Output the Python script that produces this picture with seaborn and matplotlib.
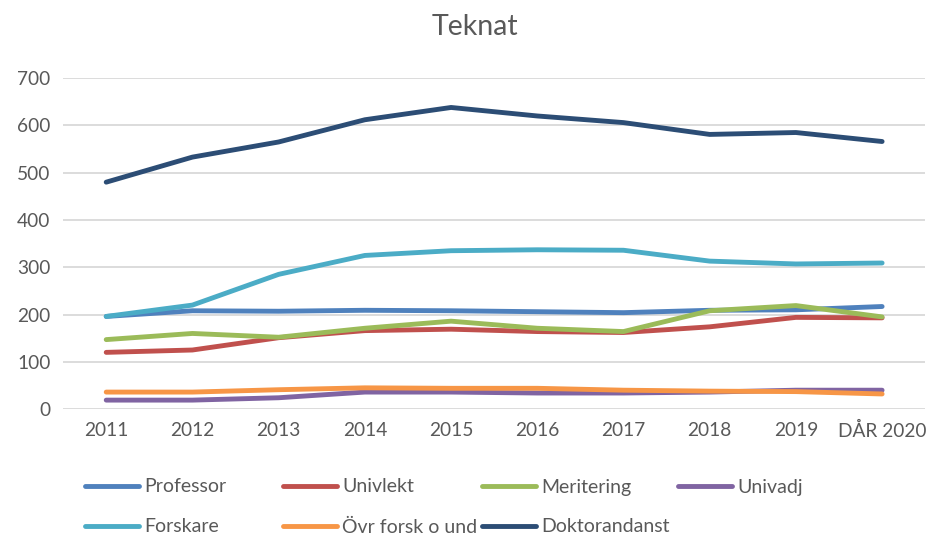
import pandas as pd
import matplotlib.pyplot as plt
import seaborn as sns

years = ["2011", "2012", "2013", "2014", "2015", "2016", "2017", "2018", "2019", "DÅR 2020"]

professor = [196, 208, 207, 209, 208, 206, 204, 209, 210, 217]
univlekt = [120, 125, 151, 166, 169, 164, 162, 174, 194, 193]
meritering = [147, 160, 152, 171, 186, 171, 164, 208, 219, 195]
univadj = [19, 19, 24, 36, 36, 34, 34, 36, 40, 40]
forskare = [196, 220, 285, 325, 335, 337, 336, 313, 307, 309]
ovr_forsk = [36, 36, 41, 45, 44, 44, 40, 38, 37, 32]
doktorand = [480, 533, 565, 612, 638, 620, 606, 581, 585, 566]

series = {
    "Professor": professor,
    "Univlekt": univlekt,
    "Meritering": meritering,
    "Univadj": univadj,
    "Forskare": forskare,
    "Övr forsk o und": ovr_forsk,
    "Doktorandanst": doktorand,
}
colors = ["#4F81BD", "#C0504D", "#9BBB59", "#8064A2", "#4BACC6", "#F79646", "#2C4D75"]

rows = []
for name, vals in series.items():
    for yr, v in zip(years, vals):
        rows.append({"År": yr, "Antal": v, "Kategori": name})
df = pd.DataFrame(rows)

sns.set_style("white")
plt.rcParams["font.family"] = ["Lato", "DejaVu Sans"]

W, H = 928, 539
fig = plt.figure(figsize=(W / 100, H / 100), dpi=100)
ax = fig.add_axes([0.068, 0.241, 0.929, 0.614])

sns.lineplot(data=df, x="År", y="Antal", hue="Kategori", palette=colors,
             linewidth=3.5, ax=ax, legend=False, sort=False)
for line in ax.lines:
    line.set_solid_capstyle("round")
    line.set_solid_joinstyle("round")

ax.set_xlim(-0.5, len(years) - 0.5)
ax.set_ylim(0, 700)
ax.set_yticks(range(0, 701, 100))
ax.grid(axis="y", color="#D9D9D9", linewidth=1.3)
ax.set_axisbelow(True)
for s in ax.spines.values():
    s.set_visible(False)
ax.tick_params(axis="both", length=0, labelsize=13.8, colors="#595959", pad=9)
ax.set_xlabel("")
ax.set_ylabel("")
fig.text(475 / W, 1 - 27 / H, "Teknat", fontsize=20.5, color="#595959",
         ha="center", va="center")

# legend: one small legend per entry so the columns line up like the original
names = list(series.keys())
spots = [(85, 487), (283, 487), (482, 487), (678, 487),
         (85, 527), (283, 527), (482, 527)]
for name, c, (px, py) in zip(names, colors, spots):
    h = plt.Line2D([], [], color=c, linewidth=3.5, solid_capstyle="round")
    leg = fig.legend([h], [name], loc="center left",
                     bbox_to_anchor=(px / W, 1 - py / H), frameon=False,
                     fontsize=14, handlelength=2.8, handletextpad=0.25,
                     borderpad=0, borderaxespad=0)
    for t in leg.get_texts():
        t.set_color("#595959")

fig.savefig("out.png", dpi=100)
